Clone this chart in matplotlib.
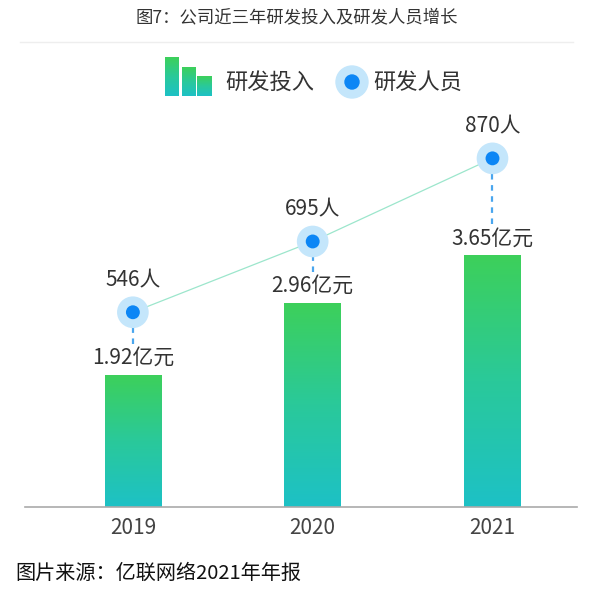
import numpy as np
import matplotlib.pyplot as plt
from matplotlib.colors import LinearSegmentedColormap
from matplotlib.patches import Rectangle, Circle
from matplotlib.lines import Line2D

plt.rcParams['font.family'] = ['Noto Sans CJK SC', 'DejaVu Sans']

years = ['2019', '2020', '2021']
invest = [1.92, 2.96, 3.65]          # 研发投入 (亿元)
staff = [546, 695, 870]              # 研发人员 (人)
invest_labels = ['1.92亿元', '2.96亿元', '3.65亿元']
staff_labels = ['546人', '695人', '870人']

W, H = 593, 598
fig = plt.figure(figsize=(W / 100, H / 100), dpi=100)

# axes box in pixels: left 25, right 577, bottom 507, top 100
ax = fig.add_axes([25 / W, (H - 507) / H, 552 / W, 407 / H])
ax2 = ax.twinx()

grad = LinearSegmentedColormap.from_list('g', ['#1dc1c6', '#2ac99a', '#3dd05a'])
x = np.arange(len(years))
bars = ax.bar(x, invest, width=0.315, color='none', zorder=2)
ax.set_xlim(-0.6, 2.47)
ax.set_ylim(0, 407 / 69)
ax2.set_ylim(136, 136 + 407 / 0.475)

g = np.linspace(0, 1, 256).reshape(-1, 1)
for b in bars:
    x0, y0 = b.get_x(), b.get_y()
    w, h = b.get_width(), b.get_height()
    im = ax.imshow(g, cmap=grad, origin='lower', aspect='auto',
                   extent=[x0, x0 + w, y0, y0 + h], zorder=2)
    im.set_clip_path(b)
ax.set_xlim(-0.6, 2.47)
ax.set_ylim(0, 407 / 69)

# line and dots on secondary axis
ax2.plot(x, staff, color='#9ce6cc', lw=0.9, zorder=3)
ax2.scatter(x, staff, s=520, color='#c4e6fb', zorder=4, edgecolors='none')
ax2.scatter(x, staff, s=100, color='#0c86f5', zorder=5, edgecolors='none')

for i in range(len(years)):
    ax.annotate(invest_labels[i], (x[i], invest[i]), xytext=(0, 12),
                textcoords='offset points', ha='center', va='center',
                fontsize=15, color='#333333')
    ax2.annotate(staff_labels[i], (x[i], staff[i]), xytext=(0, 23),
                 textcoords='offset points', ha='center', va='center',
                 fontsize=15, color='#333333')
    # dashed connector from dot down to bar label
    top_px = ax2.transData.transform((x[i], staff[i]))[1] - 12
    bot_px = ax.transData.transform((x[i], invest[i]))[1] + 31
    ax.plot([x[i], x[i]],
            [ax.transData.inverted().transform((0, bot_px))[1],
             ax.transData.inverted().transform((0, top_px))[1]],
            color='#4aa6ee', lw=1.6, ls=(0, (2.5, 2.5)), zorder=3)

for a in (ax, ax2):
    for s in ['top', 'right', 'left']:
        a.spines[s].set_visible(False)
    a.set_yticks([])
ax2.spines['bottom'].set_visible(False)
ax.spines['bottom'].set_color('#aaaaaa')
ax.spines['bottom'].set_linewidth(1.2)
ax.set_xticks(x)
ax.set_xticklabels(years, fontsize=15, color='#444444')
ax.tick_params(axis='x', length=0, pad=7)

# title and separator
fig.text(0.5, 1 - 17 / H, '图7：公司近三年研发投入及研发人员增长', ha='center', va='center',
         fontsize=12.5, color='#333333')
fig.add_artist(Line2D([20 / W, 573 / W], [1 - 42 / H, 1 - 42 / H], color='#eeeeee', lw=1))

# legend (drawn by hand)
lg = fig.add_axes([0, 0, 1, 1], zorder=10)
lg.set_xlim(0, W)
lg.set_ylim(H, 0)
lg.axis('off')
for (lx, rx, ty) in [(165, 179, 57), (182, 196, 67), (197, 212, 76)]:
    r = Rectangle((lx, ty), rx - lx, 96 - ty, color='none')
    lg.add_patch(r)
    im = lg.imshow(g, cmap=grad, origin='lower', aspect='auto',
                   extent=[lx, rx, 96, ty])
    im.set_clip_path(r)
lg.set_xlim(0, W)
lg.set_ylim(H, 0)
lg.text(225, 82, '研发投入', fontsize=16, color='#333333', va='center', ha='left')
lg.add_patch(Circle((352, 82), 16, color='#c4e6fb'))
lg.add_patch(Circle((352, 82), 7, color='#0c86f5'))
lg.text(373, 82, '研发人员', fontsize=16, color='#333333', va='center', ha='left')

# source note
fig.text(15 / W, 1 - 573 / H, '图片来源：亿联网络2021年年报', ha='left', va='center',
         fontsize=14.5, color='#111111')

fig.savefig('out.png', dpi=100)
